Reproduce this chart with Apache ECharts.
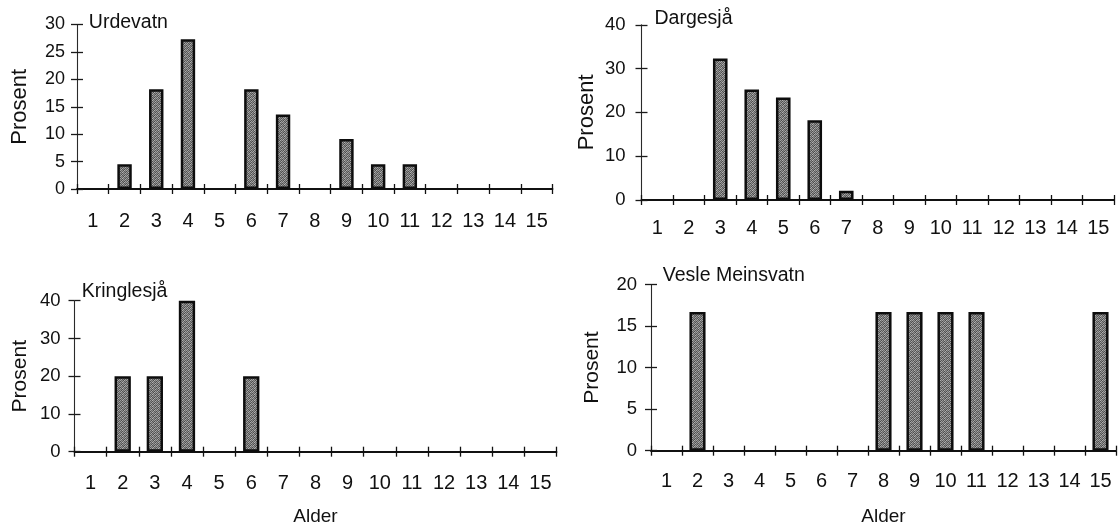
<!DOCTYPE html>
<html>
<head>
<meta charset="utf-8">
<title>Aldersfordeling</title>
<script src="https://cdn.jsdelivr.net/npm/echarts@6/dist/echarts.min.js"></script>
<style>
  html, body { margin: 0; padding: 0; background: #fff; }
  #chart { width: 1120px; height: 526px; }
</style>
</head>
<body>
<div id="chart"></div>
<script>
// Age classes (years) shared by all four lakes
const ages = ['1', '2', '3', '4', '5', '6', '7', '8', '9', '10', '11', '12', '13', '14', '15'];

// Percentage of fish in each age class, one array per lake
const urdevatn       = [0, 4.5, 18.2, 27.3, 0, 18.2, 13.6, 0, 9.1, 4.5, 4.5, 0, 0, 0, 0];
const dargesja       = [0, 0, 32.3, 25.2, 23.4, 18.2, 2.1, 0, 0, 0, 0, 0, 0, 0, 0];
const kringlesja     = [0, 20, 20, 40, 0, 20, 0, 0, 0, 0, 0, 0, 0, 0, 0];
const vesleMeinsvatn = [0, 16.7, 0, 0, 0, 0, 0, 16.7, 16.7, 16.7, 16.7, 0, 0, 0, 16.7];

// Panel titles and value-axis ranges
const lakes   = ['Urdevatn', 'Dargesjå', 'Kringlesjå', 'Vesle Meinsvatn'];
const yMax    = [30, 40, 40, 20];
const yStep   = [5, 10, 10, 5];
const values  = [urdevatn, dargesja, kringlesja, vesleMeinsvatn];

// Layout of the four small charts (pixels)
const layout = [
  { grid: { left: 77,    top: 24.5,  width: 475.5, height: 164.5 }, barWidth: 14.4,
    title: { left: 88.8,  top: 13 },    yLabelSize: 18,   yMargin: 12, xMargin: 22,
    yNameSize: 22, yNameGap: 45.7, xName: '' },
  { grid: { left: 641.5, top: 24.8,  width: 472.5, height: 175.2 }, barWidth: 14.6,
    title: { left: 654.5, top: 8.7 },   yLabelSize: 18.5, yMargin: 16, xMargin: 18,
    yNameSize: 22, yNameGap: 43.7, xName: '' },
  { grid: { left: 74.5,  top: 300.7, width: 482,   height: 151 },   barWidth: 16.3,
    title: { left: 81.7,  top: 281.3 }, yLabelSize: 18.5, yMargin: 14, xMargin: 21.6,
    yNameSize: 21, yNameGap: 43.7, xName: 'Alder', xNameGap: 55.5 },
  { grid: { left: 651,   top: 284.5, width: 465,   height: 166.2 }, barWidth: 16.1,
    title: { left: 662.8, top: 265.3 }, yLabelSize: 18.5, yMargin: 14, xMargin: 21,
    yNameSize: 21, yNameGap: 48.5, xName: 'Alder', xNameGap: 56.5 }
];

const FONT = '"Liberation Sans", Arial, Helvetica, sans-serif';
const INK = '#111';

// Stippled grey fill used inside the bars
function stipple() {
  const shades = [
    [0x8c, 0x4e, 0xa4, 0x64, 0x98, 0x56],
    [0x60, 0xac, 0x52, 0x8a, 0x4a, 0xa0],
    [0xa2, 0x68, 0x8e, 0x48, 0xb0, 0x6e],
    [0x4c, 0x94, 0x62, 0xa8, 0x5a, 0x86],
    [0x9e, 0x58, 0xb2, 0x70, 0x8a, 0x50],
    [0x66, 0x8a, 0x4e, 0x96, 0x5e, 0xaa]
  ];
  const c = document.createElement('canvas');
  c.width = 6; c.height = 6;
  const ctx = c.getContext('2d');
  for (let y = 0; y < 6; y++) {
    for (let x = 0; x < 6; x++) {
      const v = shades[y][x];
      ctx.fillStyle = 'rgb(' + v + ',' + v + ',' + v + ')';
      ctx.fillRect(x, y, 1, 1);
    }
  }
  return c;
}
const barFill = { image: stipple(), repeat: 'repeat' };

const titles = [], grids = [], xAxes = [], yAxes = [], series = [];

lakes.forEach(function (name, i) {
  const L = layout[i];

  titles.push({
    text: name,
    left: L.title.left,
    top: L.title.top,
    padding: 0,
    textStyle: { fontFamily: FONT, fontSize: 19.5, fontWeight: 'normal', color: INK }
  });

  grids.push(Object.assign({ outerBoundsMode: 'none', containLabel: false }, L.grid));

  // Category axis with labels and outward ticks
  xAxes.push({
    type: 'category',
    gridIndex: i,
    data: ages,
    position: 'bottom',
    boundaryGap: true,
    axisLine: { show: true, lineStyle: { color: '#111', width: 1.8 } },
    axisTick: { show: true, interval: 0, length: 5, lineStyle: { color: '#111', width: 1.3 } },
    axisLabel: { interval: 0, margin: L.xMargin, fontFamily: FONT, fontSize: 20, color: INK },
    splitLine: { show: false },
    name: L.xName,
    nameLocation: 'middle',
    nameGap: L.xNameGap || 0,
    nameTextStyle: { fontFamily: FONT, fontSize: 19, color: INK }
  });
  // Same axis again, drawing the upward half of each tick
  xAxes.push({
    type: 'category',
    gridIndex: i,
    data: ages,
    position: 'bottom',
    boundaryGap: true,
    axisLine: { show: false },
    axisTick: { show: true, inside: true, interval: 0, length: 5, lineStyle: { color: '#111', width: 1.3 } },
    axisLabel: { show: false },
    splitLine: { show: false }
  });

  // Value axis with labels and outward ticks
  yAxes.push({
    type: 'value',
    gridIndex: i,
    position: 'left',
    min: 0,
    max: yMax[i],
    interval: yStep[i],
    axisLine: { show: true, lineStyle: { color: '#2a2a2a', width: 1.1 } },
    axisTick: { show: true, length: 6, lineStyle: { color: '#1a1a1a', width: 1.3 } },
    axisLabel: { margin: L.yMargin, fontFamily: FONT, fontSize: L.yLabelSize, color: INK },
    splitLine: { show: false },
    name: 'Prosent',
    nameLocation: 'middle',
    nameRotate: 90,
    nameGap: L.yNameGap,
    nameTextStyle: { fontFamily: FONT, fontSize: L.yNameSize, color: INK }
  });
  // Inner half of the value-axis ticks
  yAxes.push({
    type: 'value',
    gridIndex: i,
    position: 'left',
    min: 0,
    max: yMax[i],
    interval: yStep[i],
    axisLine: { show: false },
    axisTick: { show: true, inside: true, length: 6, lineStyle: { color: '#1a1a1a', width: 1.3 } },
    axisLabel: { show: false },
    splitLine: { show: false }
  });

  series.push({
    type: 'bar',
    name: name,
    xAxisIndex: 2 * i,
    yAxisIndex: 2 * i,
    barWidth: L.barWidth,
    data: values[i].map(function (v) { return v === 0 ? null : v; }),
    itemStyle: { color: barFill, borderColor: '#0d0d0d', borderWidth: 2.5 },
    emphasis: { disabled: true }
  });
});

const chart = echarts.init(document.getElementById('chart'), null, { renderer: 'canvas' });
chart.setOption({
  animation: false,
  backgroundColor: '#fff',
  textStyle: { fontFamily: FONT, color: INK },
  title: titles,
  grid: grids,
  xAxis: xAxes,
  yAxis: yAxes,
  series: series
});
</script>
</body>
</html>
